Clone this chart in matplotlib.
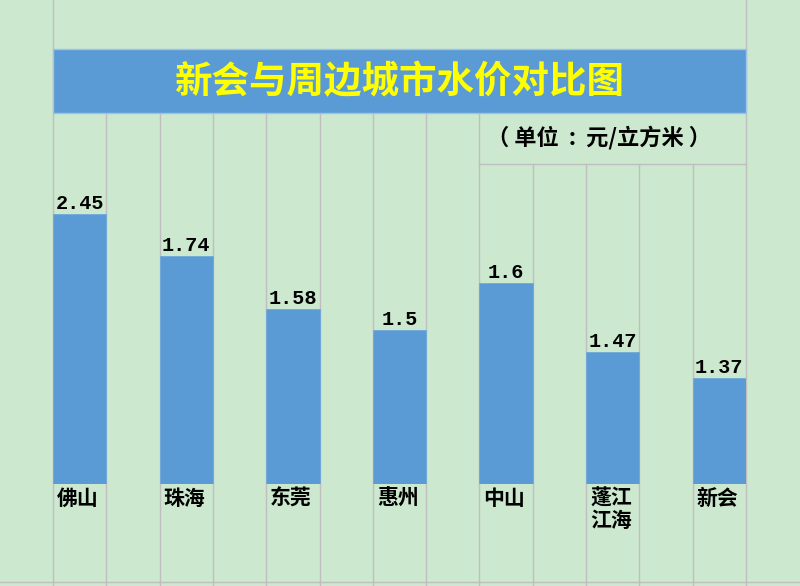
import matplotlib
matplotlib.use("Agg")
import matplotlib.pyplot as plt

plt.rcParams['font.family'] = ['Noto Sans CJK SC', 'DejaVu Sans']

# data
cities = ['佛山', '珠海', '东莞', '惠州', '中山', '蓬江\n江海', '新会']
prices = ['2.45', '1.74', '1.58', '1.5', '1.6', '1.47', '1.37']
# the drawn bars are not to scale with the prices, so keep their visual heights
bar_heights = [2.70, 2.28, 1.75, 1.54, 2.01, 1.32, 1.06]
title = '新会与周边城市水价对比图'
unit = '（ 单位  :  元/立方米 ）'

bg = '#CCE8CF'
blue = '#5B9BD5'
grid = '#BFBFBF'

fig = plt.figure(figsize=(8, 5.86), dpi=100, facecolor=bg)

# sheet layer, in pixel coordinates
ax = fig.add_axes([0, 0, 1, 1])
ax.set_xlim(0, 800)
ax.set_ylim(586, 0)
ax.axis('off')

left, right = 53, 746
ncol = 13
cw = (right - left) / ncol
edges = [left + cw * k for k in range(ncol + 1)]

for k, xe in enumerate(edges):
    if k == 0 or k == ncol:
        ax.plot([xe, xe], [0, 586], color=grid, lw=1, zorder=1)
    elif xe > 500:
        ax.plot([xe, xe], [164, 586], color=grid, lw=1, zorder=1)
    else:
        ax.plot([xe, xe], [113, 586], color=grid, lw=1, zorder=1)
ax.plot([0, 800], [582, 582], color=grid, lw=1, zorder=1)
ax.plot([edges[8], right], [164, 164], color=grid, lw=1, zorder=1)

# title band
ax.add_patch(plt.Rectangle((left, 49), right - left, 64, facecolor=blue,
                           edgecolor='#9DC3E6', lw=1, zorder=2))
ax.text((left + right) / 2, 82, title, color='#FFFF00', fontsize=27,
        fontweight='bold', ha='center', va='center', zorder=3)
ax.text(599, 138, unit, color='black', fontsize=16, fontweight='bold',
        ha='center', va='center', zorder=3)

# bar layer
bx = fig.add_axes([left / 800, (586 - 484) / 586, (right - left) / 800,
                   (484 - 113) / 586])
bx.patch.set_alpha(0)
bx.set_xlim(-0.5, ncol - 0.5)
bx.set_ylim(0, 3.71)
bx.axis('off')

xs = list(range(0, ncol, 2))
bx.bar(xs, bar_heights, width=1.0, color=blue, edgecolor='#6FA8DC', lw=0.6,
       zorder=2)

for x, h, p, c in zip(xs, bar_heights, prices, cities):
    bx.annotate(p, (x, h), xytext=(0, 1), textcoords='offset pixels',
                ha='center', va='bottom', fontsize=14.5, fontweight='bold',
                family=['Liberation Mono', 'DejaVu Sans Mono'], color='black')
    bx.annotate(c, (x - 0.5, 0), xytext=(4, -4), textcoords='offset pixels',
                ha='left', va='top', fontsize=15, fontweight='bold',
                linespacing=1.05, color='black')

fig.savefig('out.png', dpi=100, facecolor=bg)
